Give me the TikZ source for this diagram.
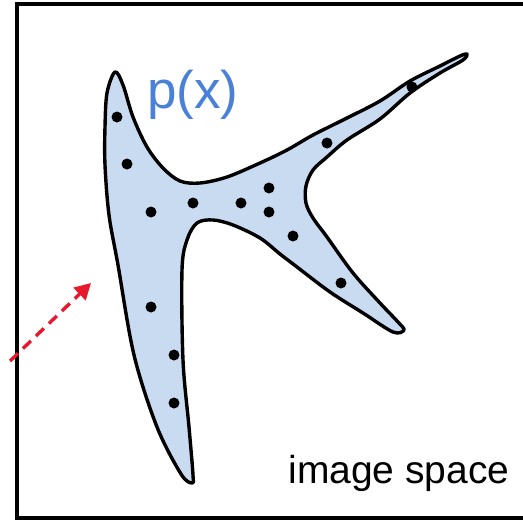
\documentclass[tikz,border=0pt]{standalone}
\usepackage{fontspec}
\setmainfont{Liberation Sans}
\usetikzlibrary{arrows.meta}
\definecolor{DensityBlue}{HTML}{C9DBF0}
\definecolor{LabelBlue}{HTML}{4A80D8}
\definecolor{LatentRed}{HTML}{E8192C}

\begin{document}
\begin{tikzpicture}[x=1pt,y=-1pt,
  outline/.style={line width=3.4pt,line join=round,fill=DensityBlue},
  sample/.style={fill=black}]
\useasboundingbox (0,0) rectangle (523,520);
% frame, runs off the right edge
\draw[line width=3.4pt] (523,4) -- (17,4) -- (17,518) -- (523,518);
% density region
\draw[outline] plot[smooth cycle,tension=0.55] coordinates {
  (115,72) (123,85) (133,117) (147,147) (163,168) (180,181) (200,183)
  (227,177) (260,163) (287,150) (313,135) (347,118) (380,101) (410,81)
  (440,66) (460,56) (467,54) (463,60) (440,73) (410,93) (380,119)
  (347,140) (327,157) (313,170) (306,186) (306,203) (313,218) (327,237)
  (353,273) (380,303) (398,322) (404,330) (393,332) (363,313) (330,292)
  (297,267) (280,254) (260,238) (233,225) (213,220) (197,223) (187,240)
  (182,270) (183,360) (189,427) (193,475) (192,483) (181,474) (157,427)
  (134,355) (118,265) (109,215) (105,165) (105,127) (107,93)};
% samples
\foreach \px/\py in {117/117,127/164,151/212,193/203,241/203,269/188,
  269/212,293/236,327/143,412/87,341/283,151/307,174/355,174/403}
  \fill[sample] (\px,\py) circle (5.5pt);
\node[text=LabelBlue,font=\fontsize{53}{53}\selectfont,anchor=base] (px) at (193,108) {p(x)};
\node[font=\fontsize{39}{39}\selectfont,anchor=base] (space) at (399,483) {image space};
% incoming arrow
\coordinate (arrowstart) at (10,361);
\coordinate (arrowend) at (91,283);
\draw[LatentRed,line width=3.4pt,dash pattern=on 11pt off 7pt,-{Triangle[length=16pt,width=17pt]}]
  (arrowstart) -- (arrowend);
\end{tikzpicture}
\end{document}
